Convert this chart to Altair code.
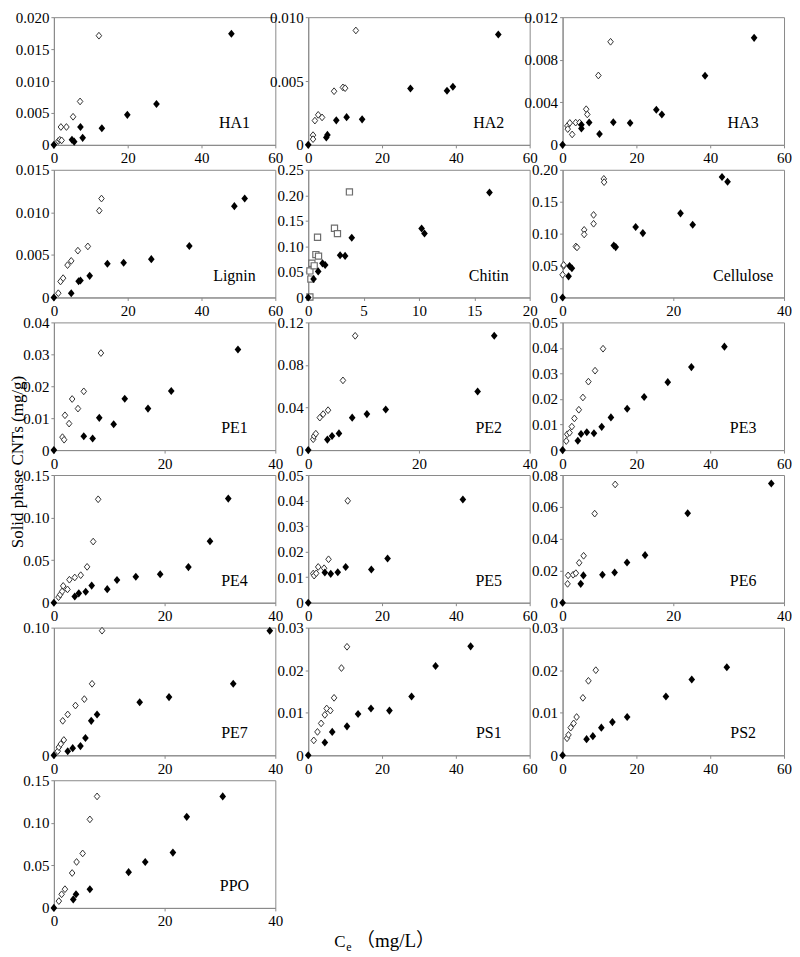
import altair as alt
import pandas as pd

FONT = "Liberation Serif"
W, H = 222, 128

# ---------------- data: [Ce (mg/L), solid phase CNTs (mg/g)] ----------------
HA1_OPEN = [[1.2, 0.0006], [1.6, 0.0008], [2.1, 0.0007], [1.9, 0.0028], [3.4, 0.0028],
            [5.2, 0.0044], [7.1, 0.0068], [12.2, 0.0171]]
HA1_SOLID = [[0, 0], [4.9, 0.0008], [5.5, 0.0005], [7.2, 0.0028], [7.8, 0.0011],
             [13.0, 0.0026], [19.9, 0.0047], [27.8, 0.0064], [48.1, 0.0174]]

HA2_OPEN = [[1.3, 0.00076], [1.3, 0.00045], [1.8, 0.0019], [2.7, 0.00235], [3.75, 0.00215],
            [7.0, 0.0042], [9.4, 0.0045], [10.0, 0.00444], [12.9, 0.00896]]
HA2_SOLID = [[0, 0], [4.9, 0.00058], [5.2, 0.00078], [7.6, 0.00192], [10.4, 0.00217],
             [14.6, 0.0020], [27.7, 0.00442], [37.6, 0.00424], [39.2, 0.00455], [51.5, 0.00864]]

HA3_OPEN = [[1.3, 0.00178], [1.4, 0.00148], [1.95, 0.00206], [2.6, 0.00098], [3.55, 0.00209],
            [4.6, 0.00209], [6.4, 0.00335], [6.7, 0.00286], [9.7, 0.00652], [13.0, 0.00969]]
HA3_SOLID = [[0, 0], [5.1, 0.00188], [5.1, 0.00154], [7.2, 0.0021], [10.0, 0.00102],
             [13.75, 0.00212], [18.3, 0.00206], [25.4, 0.0033], [26.9, 0.00286],
             [38.6, 0.0065], [51.9, 0.01006]]

LIGNIN_OPEN = [[1.2, 0.0005], [1.8, 0.00188], [2.5, 0.00227], [3.7, 0.0038], [4.7, 0.0043],
               [6.5, 0.0055], [9.2, 0.0060], [12.3, 0.0102], [12.9, 0.01162]]
LIGNIN_SOLID = [[0, 0], [4.7, 0.0005], [6.7, 0.0019], [7.2, 0.0020], [9.7, 0.00254],
                [14.5, 0.00396], [18.9, 0.00408], [26.4, 0.0045], [36.7, 0.00604],
                [48.9, 0.01073], [51.7, 0.01162]]

CHITIN_OPEN = [[0.15, 0.001], [0.15, 0.052], [0.24, 0.036], [0.33, 0.067], [0.54, 0.062],
               [0.69, 0.084], [0.93, 0.081], [0.84, 0.118], [2.37, 0.1355], [2.64, 0.125],
               [3.72, 0.2067]]
CHITIN_SOLID = [[0, 0], [0.48, 0.0363], [0.9, 0.051], [1.29, 0.0668], [1.53, 0.0636],
                [2.88, 0.0827], [3.33, 0.0814], [3.93, 0.117], [10.24, 0.135],
                [10.5, 0.1253], [16.37, 0.2055]]

CELLULOSE_OPEN = [[0, 0.0356], [0.18, 0.0494], [0.2, 0.051], [2.4, 0.0799], [2.6, 0.0784],
                  [3.9, 0.1059], [3.9, 0.0987], [5.6, 0.1293], [5.6, 0.1155],
                  [7.45, 0.1858], [7.5, 0.1807]]
CELLULOSE_SOLID = [[0, 0], [1.08, 0.0331], [1.26, 0.0494], [1.68, 0.0458], [9.25, 0.0814],
                   [9.6, 0.0789], [13.2, 0.1104], [14.5, 0.1008], [21.3, 0.1318],
                   [23.5, 0.114], [28.8, 0.1888], [29.8, 0.1812]]

PE1_OPEN = [[1.55, 0.00405], [1.85, 0.00324], [2.0, 0.0109], [2.75, 0.0083], [3.3, 0.016],
            [4.35, 0.013], [5.4, 0.0184], [8.5, 0.0304]]
PE1_SOLID = [[0, 0], [5.4, 0.00435], [7.0, 0.00365], [8.2, 0.0101], [10.8, 0.0081],
             [12.8, 0.0161], [17.0, 0.013], [21.2, 0.0185], [33.25, 0.0315]]

PE2_OPEN = [[0.9, 0.0102], [1.07, 0.0132], [1.37, 0.0154], [2.09, 0.0305], [2.69, 0.0338],
            [3.58, 0.0375], [6.27, 0.0655], [8.48, 0.1074]]
PE2_SOLID = [[0, 0], [3.46, 0.00985], [4.3, 0.0132], [5.55, 0.0157], [7.94, 0.0305],
             [10.6, 0.0338], [14.0, 0.0382], [30.6, 0.0551], [33.6, 0.1074]]

PE3_OPEN = [[1.0, 0.00354], [1.26, 0.0062], [1.9, 0.0068], [2.5, 0.0092], [3.2, 0.0124],
            [4.4, 0.0158], [5.5, 0.0206], [7.0, 0.0268], [8.8, 0.0311], [10.96, 0.0397]]
PE3_SOLID = [[0, 0], [4.13, 0.00367], [5.0, 0.0063], [6.56, 0.0070], [8.5, 0.0066],
             [10.6, 0.0091], [13.1, 0.0128], [17.5, 0.0162], [22.1, 0.0208],
             [28.5, 0.0266], [34.9, 0.0325], [43.85, 0.0405]]

PE4_OPEN = [[0.84, 0.0065], [1.14, 0.0095], [1.5, 0.0133], [1.68, 0.0197], [2.46, 0.0156],
            [2.8, 0.027], [3.77, 0.0296], [4.85, 0.0323], [6.0, 0.0421], [7.1, 0.0718],
            [8.0, 0.1215]]
PE4_SOLID = [[0, 0], [3.77, 0.0072], [4.5, 0.011], [5.75, 0.0129], [6.83, 0.0201],
             [9.64, 0.0159], [11.4, 0.0266], [14.8, 0.0304], [19.2, 0.0334],
             [24.3, 0.0418], [28.2, 0.0721], [31.5, 0.1223]]

PE5_OPEN = [[1.35, 0.0114], [1.6, 0.0106], [2.16, 0.0115], [2.7, 0.014], [4.3, 0.0135],
            [5.5, 0.017], [10.7, 0.0399]]
PE5_SOLID = [[0, 0], [4.5, 0.0118], [6.1, 0.0113], [8.0, 0.0119], [10.15, 0.014],
             [17.1, 0.013], [21.5, 0.0173], [41.9, 0.0404]]

PE6_OPEN = [[0.9, 0.0118], [1.0, 0.0171], [1.9, 0.0175], [2.4, 0.0185], [3.0, 0.025],
            [3.8, 0.0294], [5.8, 0.0558], [9.5, 0.0741]]
PE6_SOLID = [[0, 0], [3.28, 0.0118], [3.76, 0.0171], [7.2, 0.0175], [9.4, 0.0189],
             [11.64, 0.0252], [14.9, 0.0298], [22.6, 0.056], [37.7, 0.0747]]

PE7_OPEN = [[0.7, 0.0032], [0.9, 0.0064], [1.25, 0.0088], [1.8, 0.012], [1.6, 0.027],
            [2.5, 0.032], [3.9, 0.039], [5.5, 0.044], [6.9, 0.056], [8.7, 0.0976]]
PE7_SOLID = [[0, 0], [2.5, 0.0032], [3.4, 0.0056], [4.8, 0.0072], [5.7, 0.0136],
             [6.75, 0.027], [7.8, 0.032], [15.5, 0.0416], [20.8, 0.0456], [32.4, 0.056],
             [39.0, 0.0976]]

PS1_OPEN = [[1.5, 0.0035], [2.5, 0.0055], [3.5, 0.0075], [4.5, 0.0095], [5.0, 0.011],
            [6.0, 0.0105], [7.0, 0.0135], [9.0, 0.0205], [10.5, 0.0255]]
PS1_SOLID = [[0, 0], [4.5, 0.003], [6.5, 0.0055], [10.5, 0.0068], [13.5, 0.0097],
             [17.0, 0.011], [22.0, 0.0105], [28.0, 0.0138], [34.5, 0.021], [44.0, 0.0256]]

PS2_OPEN = [[1.2, 0.004], [1.6, 0.0048], [2.2, 0.0065], [3.0, 0.0075], [3.8, 0.009],
            [5.5, 0.0135], [7.0, 0.0175], [9.0, 0.0200]]
PS2_SOLID = [[0, 0], [6.5, 0.0038], [8.2, 0.0045], [10.5, 0.0065], [13.5, 0.0078],
             [17.5, 0.009], [28.0, 0.0138], [35.0, 0.0178], [44.5, 0.0207]]

PPO_OPEN = [[0.9, 0.008], [1.4, 0.016], [2.0, 0.022], [3.3, 0.041], [4.1, 0.054],
            [5.2, 0.064], [6.5, 0.104], [7.8, 0.131]]
PPO_SOLID = [[0, 0], [3.5, 0.010], [4.0, 0.016], [6.5, 0.022], [13.5, 0.042],
             [16.5, 0.054], [21.5, 0.065], [24.0, 0.107], [30.5, 0.131]]

# ---------------- panel axes ----------------
NAMES = ["HA1", "HA2", "HA3", "Lignin", "Chitin", "Cellulose",
         "PE1", "PE2", "PE3", "PE4", "PE5", "PE6", "PE7", "PS1", "PS2", "PPO"]
OPEN_SETS = [HA1_OPEN, HA2_OPEN, HA3_OPEN, LIGNIN_OPEN, CHITIN_OPEN, CELLULOSE_OPEN,
             PE1_OPEN, PE2_OPEN, PE3_OPEN, PE4_OPEN, PE5_OPEN, PE6_OPEN,
             PE7_OPEN, PS1_OPEN, PS2_OPEN, PPO_OPEN]
SOLID_SETS = [HA1_SOLID, HA2_SOLID, HA3_SOLID, LIGNIN_SOLID, CHITIN_SOLID, CELLULOSE_SOLID,
              PE1_SOLID, PE2_SOLID, PE3_SOLID, PE4_SOLID, PE5_SOLID, PE6_SOLID,
              PE7_SOLID, PS1_SOLID, PS2_SOLID, PPO_SOLID]
X_TICKS = [[0, 20, 40, 60], [0, 20, 40, 60], [0, 20, 40, 60], [0, 20, 40, 60],
           [0, 5, 10, 15, 20], [0, 20, 40],
           [0, 20, 40], [0, 20, 40], [0, 20, 40, 60],
           [0, 20, 40], [0, 20, 40, 60], [0, 20, 40],
           [0, 20, 40], [0, 20, 40, 60], [0, 20, 40, 60], [0, 20, 40]]
Y_TICKS = [[0, 0.005, 0.010, 0.015, 0.020], [0, 0.005, 0.010], [0, 0.004, 0.008, 0.012],
           [0, 0.005, 0.010, 0.015], [0, 0.05, 0.10, 0.15, 0.20, 0.25], [0, 0.05, 0.10, 0.15, 0.20],
           [0, 0.01, 0.02, 0.03, 0.04], [0, 0.04, 0.08, 0.12], [0, 0.01, 0.02, 0.03, 0.04, 0.05],
           [0, 0.05, 0.10, 0.15], [0, 0.01, 0.02, 0.03, 0.04, 0.05], [0, 0.02, 0.04, 0.06, 0.08],
           [0, 0.10], [0, 0.01, 0.02, 0.03], [0, 0.01, 0.02, 0.03], [0, 0.05, 0.10, 0.15]]
Y_DECIMALS = [3, 3, 3, 3, 2, 2, 2, 2, 2, 2, 2, 2, 2, 2, 2, 2]

DIAMOND = "M0,-1L0.82,0L0,1L-0.82,0Z"
GRAY = "#8a8a8a"


def make_panel(i):
    rows = [{"ce": p[0], "q": p[1], "kind": "open"} for p in OPEN_SETS[i]]
    rows += [{"ce": p[0], "q": p[1], "kind": "solid"} for p in SOLID_SETS[i]]
    df = pd.DataFrame(rows)
    xt, yt = X_TICKS[i], Y_TICKS[i]
    fmt = ".%df" % Y_DECIMALS[i]
    common = dict(labelFont=FONT, labelFontSize=15, labelColor="black", grid=False,
                  domainColor=GRAY, tickColor=GRAY, tickSize=3, labelFlush=False,
                  labelOverlap=False)
    x = alt.X("ce:Q", title=None,
              scale=alt.Scale(domain=[xt[0], xt[-1]], nice=False, zero=False),
              axis=alt.Axis(values=xt, format="d", labelPadding=3, **common))
    y = alt.Y("q:Q", title=None,
              scale=alt.Scale(domain=[yt[0], yt[-1]], nice=False, zero=False),
              axis=alt.Axis(values=yt, labelPadding=2,
                            labelExpr="datum.value == 0 ? '0' : format(datum.value, '%s')" % fmt,
                            **common))
    base = alt.Chart(df).encode(x=x, y=y)
    if NAMES[i] == "Chitin":
        open_layer = base.transform_filter("datum.kind == 'open'").mark_point(
            shape="square", size=38, filled=False, stroke="#6e6e6e", fill="white",
            fillOpacity=1, strokeWidth=1.2, opacity=1)
    else:
        open_layer = base.transform_filter("datum.kind == 'open'").mark_point(
            shape=DIAMOND, size=46, filled=False, stroke="#333333", fill="white",
            fillOpacity=1, strokeWidth=1, opacity=1)
    solid_layer = base.transform_filter("datum.kind == 'solid'").mark_point(
        shape=DIAMOND, size=66, filled=True, color="black", opacity=1)
    label = alt.Chart(pd.DataFrame({"t": [NAMES[i]]})).mark_text(
        font=FONT, fontSize=16, align="center", baseline="middle", color="black"
    ).encode(text="t:N", x=alt.value(W - 41), y=alt.value(H - 22))
    layers = [open_layer, solid_layer, label]
    if NAMES[i] == "PE1":
        ytitle = alt.Chart(pd.DataFrame({"t": ["Solid phase CNTs (mg/g)"]})).mark_text(
            font=FONT, fontSize=17, angle=270, align="center", baseline="middle", color="black"
        ).encode(text="t:N", x=alt.value(-36), y=alt.value(140))
        layers.append(ytitle)
    if NAMES[i] == "PPO":
        t1 = alt.Chart(pd.DataFrame({"t": ["C"]})).mark_text(
            font=FONT, fontSize=17, align="left", baseline="alphabetic", color="black"
        ).encode(text="t:N", x=alt.value(281), y=alt.value(H + 39))
        t2 = alt.Chart(pd.DataFrame({"t": ["e"]})).mark_text(
            font=FONT, fontSize=12, align="left", baseline="alphabetic", color="black"
        ).encode(text="t:N", x=alt.value(293), y=alt.value(H + 43))
        t3 = alt.Chart(pd.DataFrame({"t": ["（mg/L）"]})).mark_text(
            font=FONT + ", Noto Sans CJK SC", fontSize=19, align="left", baseline="alphabetic",
            color="black"
        ).encode(text="t:N", x=alt.value(303), y=alt.value(H + 39))
        layers += [t1, t2, t3]
    return alt.layer(*layers).properties(width=W, height=H)


panels = [make_panel(i) for i in range(len(NAMES))]

chart = alt.concat(*panels, columns=3, spacing={"row": 25, "column": 33}, bounds="flush").properties(
    padding={"left": 0, "top": 0, "right": 0, "bottom": 0}
).configure_view(
    stroke=GRAY, strokeWidth=1
).configure_axis(
    grid=False, domainColor=GRAY, tickColor=GRAY, tickSize=3,
    labelFont=FONT, labelFontSize=15, labelColor="black"
).configure_text(font=FONT)

chart.save("out.html", embed_options={"renderer": "svg", "actions": False})
